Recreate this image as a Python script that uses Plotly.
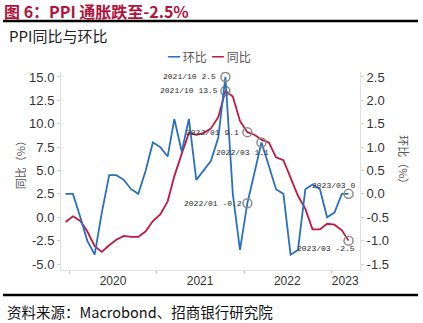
import pandas as pd
import plotly.graph_objects as go

# Monthly PPI readings, Dec 2019 - Mar 2023
months = [
    "2019/12",
    "2020/01", "2020/02", "2020/03", "2020/04", "2020/05", "2020/06",
    "2020/07", "2020/08", "2020/09", "2020/10", "2020/11", "2020/12",
    "2021/01", "2021/02", "2021/03", "2021/04", "2021/05", "2021/06",
    "2021/07", "2021/08", "2021/09", "2021/10", "2021/11", "2021/12",
    "2022/01", "2022/02", "2022/03", "2022/04", "2022/05", "2022/06",
    "2022/07", "2022/08", "2022/09", "2022/10", "2022/11", "2022/12",
    "2023/01", "2023/02", "2023/03",
]
ppi_yoy = [
    -0.5,
    0.1, -0.4, -1.5, -3.1, -3.7, -3.0, -2.4, -2.0, -2.1, -2.1, -1.5, -0.4,
    0.3, 1.7, 4.4, 6.8, 9.0, 8.8, 9.0, 9.5, 10.7, 13.5, 12.9, 10.3,
    9.1, 8.8, 8.3, 8.0, 6.4, 6.1, 4.2, 2.3, 0.9, -1.3, -1.3, -0.7,
    -0.8, -1.4, -2.5,
]
ppi_mom = [
    0.0,
    0.0, -0.5, -1.0, -1.3, -0.4, 0.4, 0.4, 0.3, 0.1, 0.0, 0.5, 1.1,
    1.0, 0.8, 1.6, 0.9, 1.6, 0.3, 0.5, 0.7, 1.2, 2.5, 0.0, -1.2,
    -0.2, 0.5, 1.1, 0.6, 0.1, 0.0, -1.3, -1.2, 0.1, 0.2, 0.1, -0.5,
    -0.4, 0.0, 0.0,
]

# Highlighted readings: (month, label x-shift px, label y-shift px)
mom_marks = [("2021/10", -7, 0), ("2022/01", -3, 0), ("2022/03", 10, -10), ("2023/03", 8, 8)]
yoy_marks = [("2021/10", -5, 0), ("2022/01", -6, 0), ("2023/03", 8, -8)]

year_labels = ["2020", "2021", "2022", "2023"]
year_label_pos = ["2020-07-01", "2021-07-01", "2022-07-01", "2023-03-01"]
year_starts = ["2020-01-01", "2021-01-01", "2022-01-01", "2023-01-01"]

left_ticks = [-5.0, -2.5, 0.0, 2.5, 5.0, 7.5, 10.0, 12.5, 15.0]
right_ticks = [-1.5, -1.0, -0.5, 0.0, 0.5, 1.0, 1.5, 2.0, 2.5]

BLUE = "#2A70C0"
RED = "#C0183E"
TITLE_RED = "#B3123C"


def mid_month(m):
    p = pd.Period(m.replace("/", "-"), freq="M")
    return p.start_time + pd.Timedelta(days=14)


x = [mid_month(m) for m in months]

fig = go.Figure()
fig.add_trace(go.Scatter(x=x, y=ppi_yoy, mode="lines", name="同比",
                         line=dict(color=RED, width=1.8), yaxis="y"))
fig.add_trace(go.Scatter(x=x, y=ppi_mom, mode="lines", name="环比",
                         line=dict(color=BLUE, width=1.8), yaxis="y2"))

annotations = []
label_font = dict(family="Liberation Mono", size=8, color="#2a2a2a")

mk_x, mk_y = [], []
for m, dx, dy in yoy_marks:
    v = ppi_yoy[months.index(m)]
    mk_x.append(mid_month(m)); mk_y.append(v)
    annotations.append(dict(x=mid_month(m), y=v, xref="x", yref="y",
                            text=f"{m} {v:g}", showarrow=False, xanchor="right",
                            yanchor="middle", xshift=dx, yshift=dy, font=label_font))
fig.add_trace(go.Scatter(x=mk_x, y=mk_y, mode="markers", yaxis="y", showlegend=False,
                         marker=dict(symbol="circle-open", size=9, color="#8c8c8c",
                                     line=dict(width=1.5, color="#8c8c8c"))))

mk_x, mk_y = [], []
for m, dx, dy in mom_marks:
    v = ppi_mom[months.index(m)]
    mk_x.append(mid_month(m)); mk_y.append(v)
    annotations.append(dict(x=mid_month(m), y=v, xref="x", yref="y2",
                            text=f"{m} {v:g}", showarrow=False, xanchor="right",
                            yanchor="middle", xshift=dx, yshift=dy, font=label_font))
fig.add_trace(go.Scatter(x=mk_x, y=mk_y, mode="markers", yaxis="y2", showlegend=False,
                         marker=dict(symbol="circle-open", size=9, color="#8c8c8c",
                                     line=dict(width=1.5, color="#8c8c8c"))))

# Header, legend, axis titles and footer
cjk = "Noto Sans CJK SC"
annotations += [
    dict(xref="paper", yref="paper", x=-0.197, y=1, yshift=61, xanchor="left", yanchor="middle",
         text="<b>图 6：PPI 通胀跌至-2.5%</b>", showarrow=False,
         font=dict(family=cjk, size=16, color=TITLE_RED)),
    dict(xref="paper", yref="paper", x=-0.18, y=1, yshift=37, xanchor="left", yanchor="middle",
         text="PPI同比与环比", showarrow=False,
         font=dict(family=cjk, size=15, color="#222222")),
    dict(xref="paper", yref="paper", x=0.497, y=1, yshift=16, xanchor="center", yanchor="middle",
         text=f"<span style='color:{BLUE}'>━</span> 环比  <span style='color:{RED}'>━</span> 同比",
         showarrow=False, font=dict(family=cjk, size=12, color="#555555")),
    dict(xref="paper", yref="paper", x=-0.137, y=0.545, xanchor="center", yanchor="middle",
         text="同比（%）", textangle=-90, showarrow=False,
         font=dict(family=cjk, size=11, color="#555555")),
    dict(xref="paper", yref="paper", x=1.147, y=0.545, xanchor="center", yanchor="middle",
         text="环比（%）", textangle=90, showarrow=False,
         font=dict(family=cjk, size=11, color="#555555")),
    dict(xref="paper", yref="paper", x=-0.187, y=0, yshift=-41, xanchor="left", yanchor="middle",
         text="资料来源：Macrobond、招商银行研究院", showarrow=False,
         font=dict(family=cjk, size=14.5, color="#111111")),
]

shapes = [
    dict(type="line", xref="paper", yref="paper", x0=-0.194, x1=1.194, y0=1.2576, y1=1.2576,
         line=dict(color="#000000", width=2.5)),
    dict(type="line", xref="paper", yref="paper", x0=-0.194, x1=1.194, y0=-0.126, y1=-0.126,
         line=dict(color="#000000", width=2.5)),
]

tick_font = dict(family="Liberation Sans", size=13, color="#333333")
fig.update_layout(
    width=423, height=323,
    margin=dict(l=61, r=63, t=72, b=53),
    plot_bgcolor="white", paper_bgcolor="white",
    showlegend=False,
    annotations=annotations,
    shapes=shapes,
    xaxis=dict(
        type="date", range=["2019-11-26", "2023-05-02"],
        tickmode="array", tickvals=year_label_pos, ticktext=year_labels,
        ticks="", showline=True, linecolor="#e0e0e0", linewidth=1,
        showgrid=False, zeroline=False,
        tickfont=dict(family="Liberation Sans", size=12, color="#333333"),
        minor=dict(tickmode="array", tickvals=year_starts, ticks="outside",
                   ticklen=3, tickcolor="#c8c8c8", showgrid=False),
    ),
    yaxis=dict(
        range=[-5.64, 15.53], tickmode="array", tickvals=left_ticks,
        ticktext=[f"{v:.1f}" for v in left_ticks],
        ticks="outside", ticklen=3, tickcolor="#d0d0d0",
        showline=True, linecolor="#e0e0e0", linewidth=1,
        showgrid=False, zeroline=False, tickfont=tick_font,
    ),
    yaxis2=dict(
        overlaying="y", side="right",
        range=[-1.628, 2.606], tickmode="array", tickvals=right_ticks,
        ticktext=[f"{v:.1f}" for v in right_ticks],
        ticks="outside", ticklen=3, tickcolor="#d0d0d0",
        showline=True, linecolor="#e0e0e0", linewidth=1,
        showgrid=False, zeroline=False, tickfont=tick_font,
    ),
)

fig.write_html("out.html")
